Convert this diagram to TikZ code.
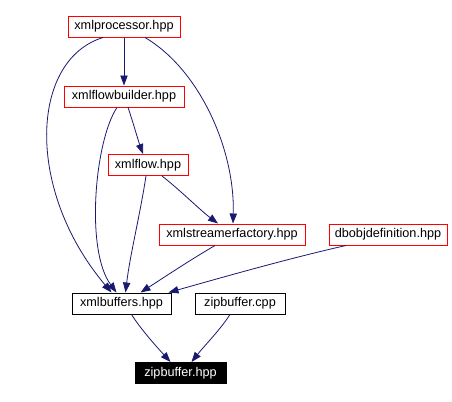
\documentclass[tikz,border=0pt]{standalone}
\usepackage{fontspec}
\setmainfont{Liberation Sans}
\usetikzlibrary{arrows.meta,calc}
\definecolor{edgeblue}{HTML}{191970}
\tikzset{
  box/.style={draw=red, line width=0.75pt, fill=white, inner sep=0pt, minimum height=15.75pt, font=\fontsize{9.5}{11}\selectfont},
  bbox/.style={box, draw=black},
  fbox/.style={box, draw=black, fill=black, text=white},
  e/.style={draw=edgeblue, line width=0.6pt, -{Triangle[length=7.5pt,width=5.5pt]}},
}
\begin{document}
\begin{tikzpicture}[x=0.75pt,y=-0.75pt]
\useasboundingbox (0,0) rectangle (452,401);
\node[box, minimum width=84pt] (proc) at (124,26.5) {xmlprocessor.hpp};
\node[box, minimum width=90pt] (fb) at (124,96.5) {xmlflowbuilder.hpp};
\node[box, minimum width=60pt] (flow) at (148,165) {xmlflow.hpp};
\node[box, minimum width=109.5pt] (sf) at (232,234.5) {xmlstreamerfactory.hpp};
\node[box, minimum width=88.5pt] (db) at (388,234.5) {dbobjdefinition.hpp};
\node[bbox, minimum width=74.25pt] (buf) at (121.5,303.5) {xmlbuffers.hpp};
\node[bbox, minimum width=67.5pt] (zcpp) at (240,303.5) {zipbuffer.cpp};
\node[fbox, minimum width=68.25pt] (zhpp) at (180.5,373) {zipbuffer.hpp};
% edges
\draw[e] ($(proc.south)+(0,0)$) -- (fb.north);
\draw[e] ($(proc.south)+(-21,0)$) .. controls (30,60) and (25,190) .. ($(buf.north)+(-10,0)$);
\draw[e] ($(proc.south)+(21,0)$) .. controls (200,70) and (235,150) .. ($(sf.north)+(1,0)$);
\draw[e] ($(fb.south)+(-7,0)$) .. controls (95,140) and (85,250) .. ($(buf.north)+(-5,0)$);
\draw[e] ($(fb.south)+(4,0)$) .. controls (133,122) and (138,140) .. ($(flow.north)+(-5,0)$);
\draw[e] ($(flow.south)+(-2,0)$) .. controls (140,215) and (130,255) .. ($(buf.north)+(4,0)$);
\draw[e] ($(flow.south)+(14,0)$) .. controls (180,190) and (200,210) .. ($(sf.north)+(-14,0)$);
\draw[e] ($(sf.south)+(-17,0)$) .. controls (190,260) and (160,280) .. ($(buf.north)+(19,0)$);
\draw[e] ($(db.south)+(-42,0)$) .. controls (290,258) and (220,278) .. ($(buf.north)+(47,0)$);
\draw[e] ($(buf.south)+(10,0)$) .. controls (140,328) and (155,345) .. ($(zhpp.north)+(-10,0)$);
\draw[e] ($(zcpp.south)+(-10,0)$) .. controls (220,330) and (205,345) .. ($(zhpp.north)+(11,0)$);
\end{tikzpicture}
\end{document}
